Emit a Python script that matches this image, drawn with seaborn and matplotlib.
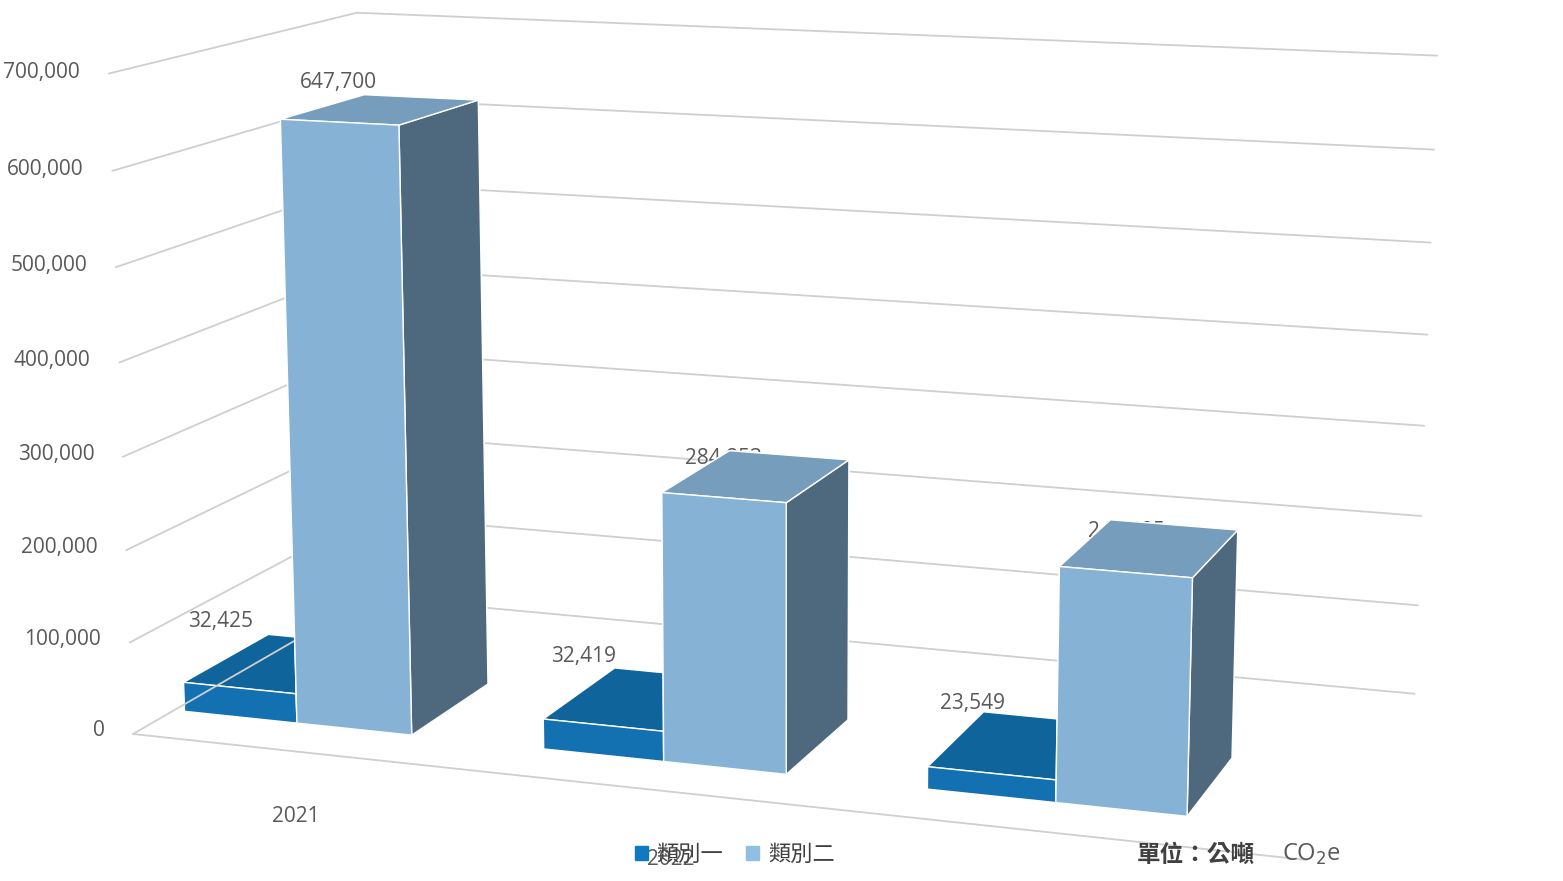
import matplotlib
matplotlib.use("Agg")
import matplotlib.pyplot as plt
from matplotlib.patches import Patch
import numpy as np
import seaborn as sns

# Data
years = ["2021", "2022", "2023"]
series_names = ["類別一", "類別二"]
cat1 = [32425, 32419, 23549]
cat2 = [647700, 284853, 242685]
z_ticks = [0, 100000, 200000, 300000, 400000, 500000, 600000, 700000]

sns.set_theme(style="white")
plt.rcParams["font.family"] = ["Open Sans", "Noto Sans CJK TC", "DejaVu Sans"]

front_cols = ["#1479bd", "#8fc0e4"]
legend_cols = ["#0f7ac1", "#8fc0e4"]

fig = plt.figure(figsize=(15.63, 8.81), dpi=100)
ax = fig.add_axes([-0.26, -0.28, 1.5, 1.62], projection="3d")
ax.set_proj_type("persp", focal_length=0.5)
ax.view_init(elev=12, azim=-71)
ax.set_axis_off()

n = len(years)
x0, x1 = -0.35, n - 0.35
y0, y1 = 0.0, 1.6
ax.set_xlim(x0, x1)
ax.set_ylim(y0, y1)
ax.set_zlim(0, 700000)
ax.set_box_aspect((3.4, 1.6, 1.9))

# grid: left wall and back wall
for z in z_ticks:
    ax.plot([x0, x0, x1], [y0, y1, y1], [z, z, z], color="#cfcfcf", lw=1.3)
    ax.text(x0 - 0.08, y0, z, f"{z:,}", ha="right", va="center",
            fontsize=15, color="#595959")
ax.plot([x0, x1], [y0, y0], [0, 0], color="#cfcfcf", lw=1.3)

bw, bd = 0.32, 0.55
ls = matplotlib.colors.LightSource(azdeg=200, altdeg=30)
for i in range(n):
    for j, vals in enumerate([cat1, cat2]):
        xs = i + (j - 1) * bw
        ax.bar3d(xs, 0.25, 0, bw, bd, vals[i], color=front_cols[j],
                 shade=True, lightsource=ls)
        off = 60000 if j == 0 else 30000
        ax.text(xs + bw / 2 - (0.05 if j == 0 else 0), 0.25, vals[i] + off,
                f"{vals[i]:,}", ha="center", va="bottom", fontsize=15, color="#595959")
    ax.text(i + 0.1, y0, -60000, years[i], ha="center", va="top",
            fontsize=15, color="#595959")

handles = [Patch(color=c, label=s) for c, s in zip(legend_cols, series_names)]
fig.legend(handles=handles, loc="center", bbox_to_anchor=(0.47, 0.03), ncol=2,
           frameon=False, fontsize=16, handlelength=0.6, handleheight=0.6,
           columnspacing=1.0, handletextpad=0.4, labelcolor="#404040",
           prop={"family": ["Noto Sans CJK TC"], "size": 16})
fig.text(0.727, 0.03, "單位：公噸", fontsize=17, color="#404040",
         fontweight="bold", va="center", family=["Noto Sans CJK TC"])
fig.text(0.82, 0.03, "CO$_2$e", fontsize=17, color="#595959", va="center")

fig.savefig("out.png", dpi=100)
